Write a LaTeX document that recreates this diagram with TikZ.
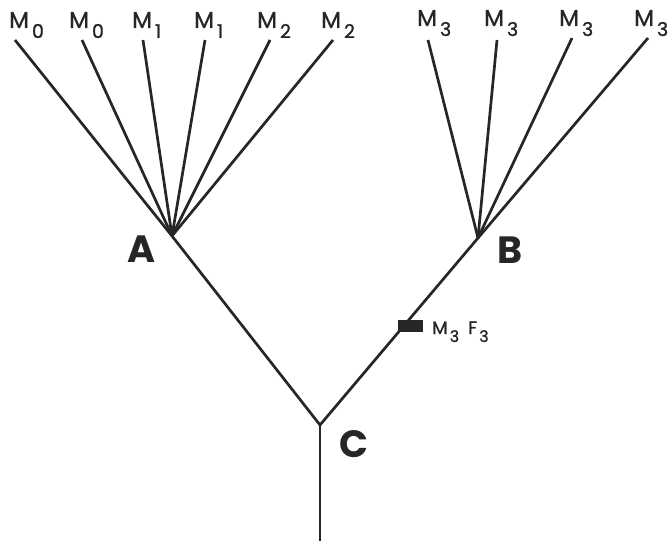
\documentclass[tikz,border=0pt]{standalone}
\usepackage{fontspec}
\setmainfont{Poppins}
\newfontfamily\popm[FakeBold=1.2]{Poppins}
\newcommand{\Mlab}[2]{#1\hspace{3pt}\raisebox{-10pt}{\fontsize{19}{19}\selectfont #2}}
\newcommand{\Mlabs}[2]{#1\hspace{2pt}\raisebox{-8pt}{\fontsize{16}{16}\selectfont #2}}
\begin{document}
\begin{tikzpicture}[x=1pt,y=-1pt,
  branch/.style={line width=2.7pt,draw=black!85},
  toplab/.style={anchor=base west,inner sep=0pt,font=\popm\fontsize{23}{23}\selectfont,text=black!85},
  bigletter/.style={anchor=base west,inner sep=0pt,font=\fontsize{38}{38}\selectfont\bfseries,text=black!85},
  marklab/.style={anchor=base west,inner sep=0pt,font=\popm\fontsize{18}{18}\selectfont,text=black!85}]
\useasboundingbox (0,0) rectangle (668,540);
% junctions
\coordinate (A) at (172,236);
\coordinate (B) at (478,238);
\coordinate (C) at (320,425);
\coordinate (root) at (320,545);
% tips
\coordinate (t1) at (15,40);
\coordinate (t2) at (82,40);
\coordinate (t3) at (143,40);
\coordinate (t4) at (205,40);
\coordinate (t5) at (270,40);
\coordinate (t6) at (333,40);
\coordinate (u1) at (428,40);
\coordinate (u2) at (497,40);
\coordinate (u3) at (572,38);
\coordinate (u4) at (648,38);
% branches
\foreach \t in {t1,t2,t3,t4,t5,t6} \draw[branch] (A) -- (\t);
\foreach \t in {u1,u2,u3,u4} \draw[branch] (B) -- (\t);
\draw[branch] (A) -- (C);
\draw[branch] (B) -- (C);
\draw[branch] (C) -- (root);
% marker
\node[draw=none,fill=black!85,minimum width=25pt,minimum height=12pt,inner sep=0pt] (mk) at (410,326) {};
% labels
\node[toplab] (l1) at (9,28) {\Mlab{M}{0}};
\node[toplab] (l2) at (69,28) {\Mlab{M}{0}};
\node[toplab] (l3) at (132,28) {\Mlab{M}{1}};
\node[toplab] (l4) at (194,28) {\Mlab{M}{1}};
\node[toplab] (l5) at (257,28) {\Mlab{M}{2}};
\node[toplab] (l6) at (321,28) {\Mlab{M}{2}};
\node[toplab] (m1) at (417,26) {\Mlab{M}{3}};
\node[toplab] (m2) at (484,26) {\Mlab{M}{3}};
\node[toplab] (m3) at (559,26) {\Mlab{M}{3}};
\node[toplab] (m4) at (634,26) {\Mlab{M}{3}};
\node[bigletter] (la) at (127,262) {A};
\node[bigletter] (lb) at (497,263) {B};
\node[bigletter] (lc) at (339,457) {C};
\node[marklab] (lm) at (432,334) {\Mlabs{M}{3}\hspace{9pt}\Mlabs{F}{3}};
\end{tikzpicture}
\end{document}
